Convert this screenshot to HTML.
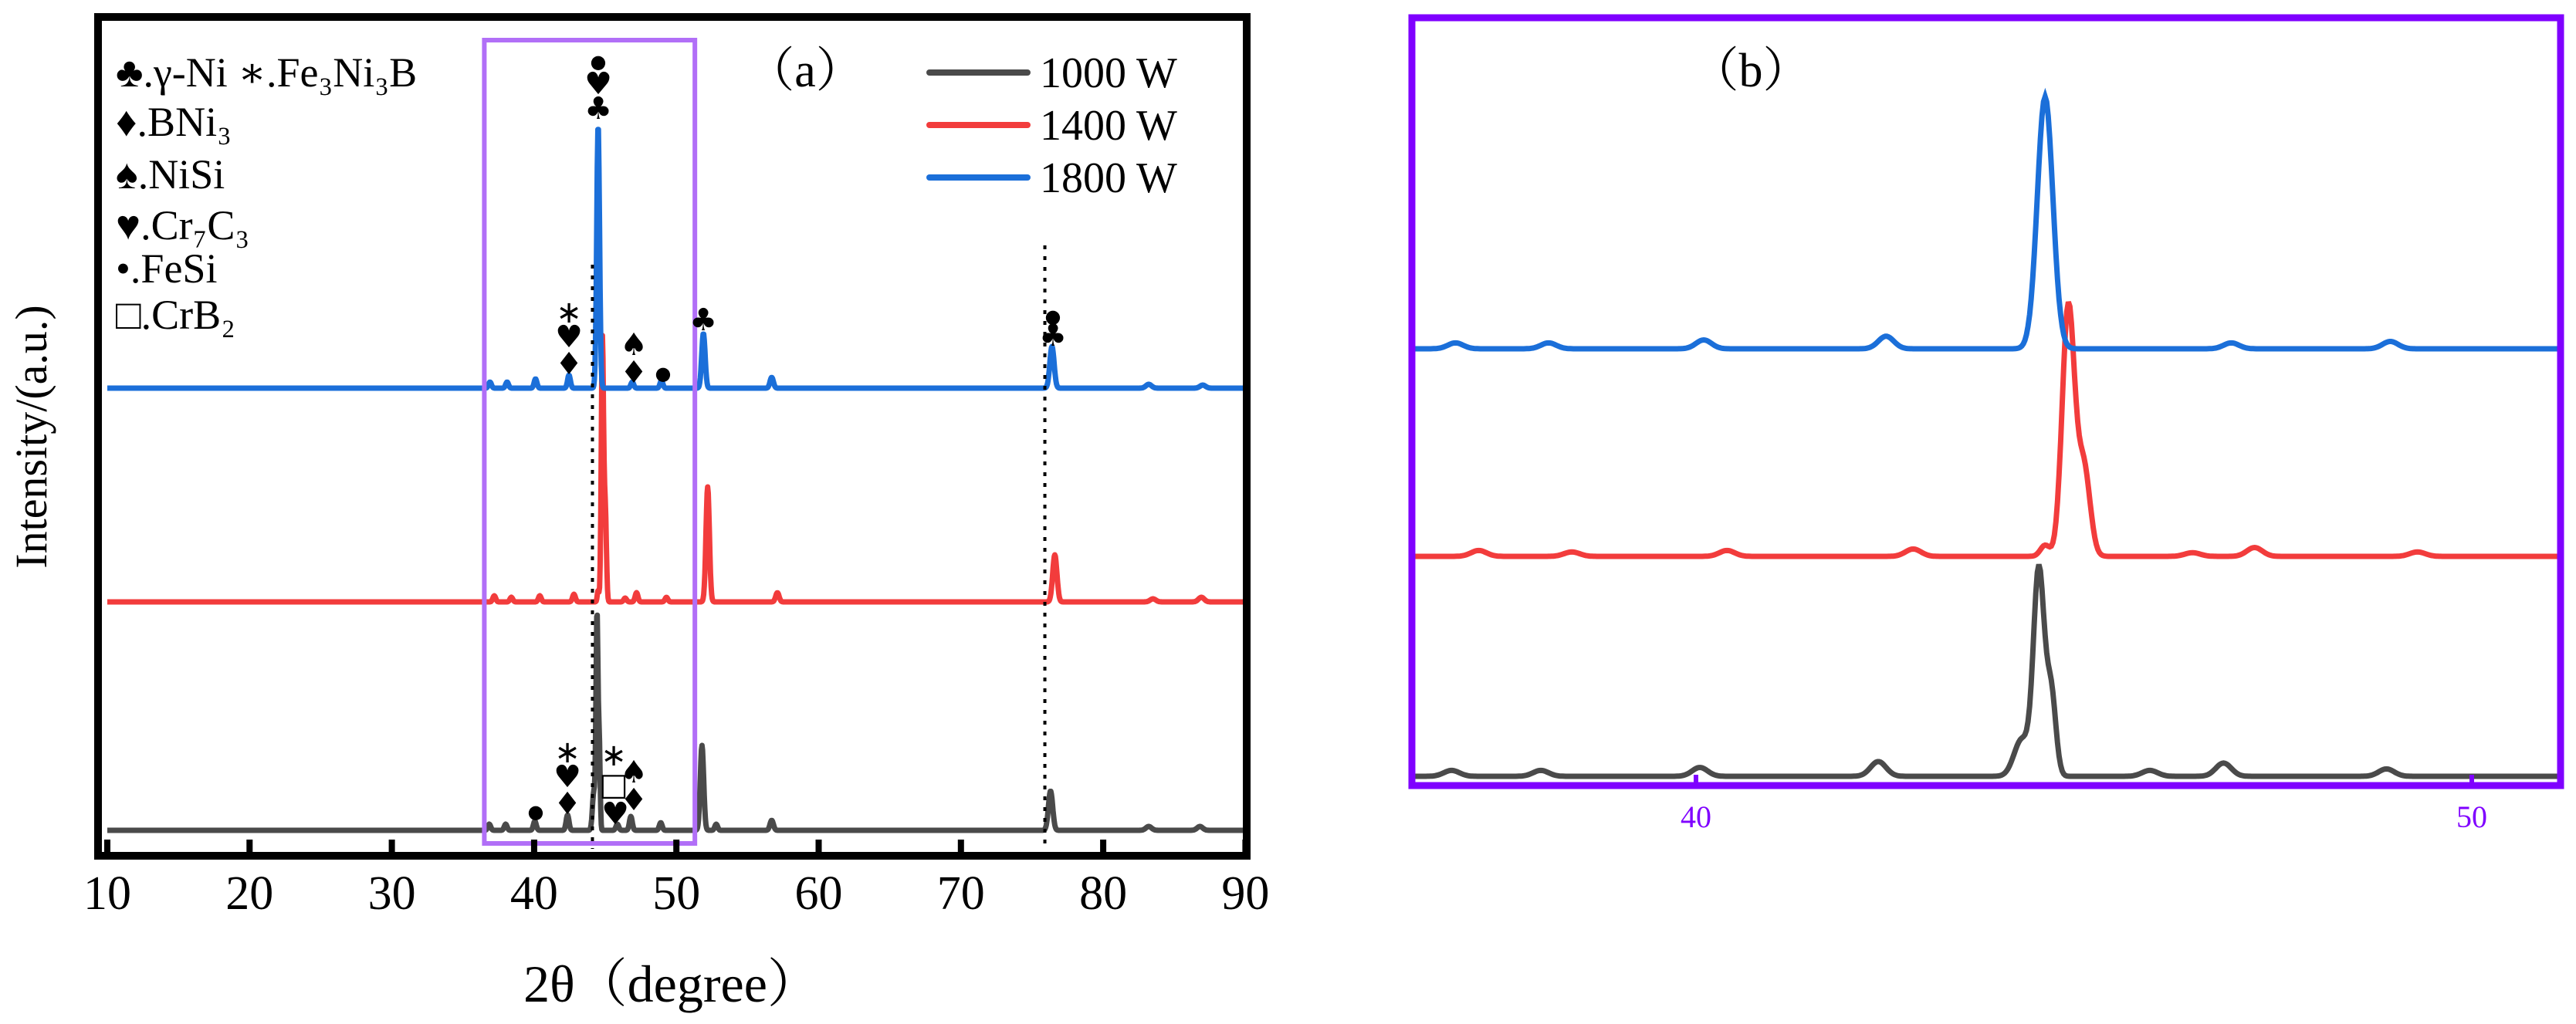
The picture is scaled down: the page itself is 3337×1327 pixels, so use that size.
<!DOCTYPE html>
<html><head><meta charset="utf-8"><style>
body{margin:0;background:#fff}
svg{display:block;font-family:"Liberation Serif",serif}
</style></head><body>
<svg id="fig" width="3337" height="1327" viewBox="0 0 3337 1327" xmlns="http://www.w3.org/2000/svg">
<defs><clipPath id="clipB"><rect x="1833" y="26" width="1480" height="990"/></clipPath>
<clipPath id="clipA"><rect x="132" y="27" width="1478" height="1077"/></clipPath></defs>
<g id="panelA"></g>
<g id="panelB"></g>
</svg>
<script>
// ---- data (2θ in degrees, intensity in arbitrary units) ----
const seriesNames = ["1000 W", "1400 W", "1800 W"];
const blackPeakPos = [36.85, 38.0, 40.05, 42.35, 44.2, 44.42, 44.58, 45.85, 46.8, 48.9, 51.8, 52.8, 56.7, 76.3, 83.2, 86.8];
const blackPeakHt  = [8, 8, 12, 20, 50, 280, 110, 8, 18, 10, 110, 8, 13, 51, 5, 5];
const blackPeakW   = [.1, .1, .1, .1, .1, .07, .06, .1, .1, .1, .12, .1, .12, .15, .2, .2];
const redPeakPos = [37.2, 38.4, 40.4, 42.8, 44.5, 44.8, 45.0, 46.4, 47.2, 49.3, 52.2, 57.1, 76.6, 83.5, 86.9];
const redPeakHt  = [8, 6, 8, 10, 15, 340, 120, 5, 12, 6, 149, 12, 61, 4, 6];
const redPeakW   = [.1, .1, .1, .1, .06, .08, .08, .1, .1, .1, .12, .12, .15, .2, .2];
const bluePeakPos = [36.9, 38.1, 40.1, 42.45, 44.5, 46.9, 48.95, 51.9, 56.7, 76.4, 83.2, 87.0];
const bluePeakHt  = [8, 8, 12, 17, 342, 8, 10, 71, 14, 54, 5, 4];
const bluePeakW   = [.1, .1, .1, .1, .1, .1, .1, .12, .12, .15, .2, .2];
const xTicksA = [10, 20, 30, 40, 50, 60, 70, 80, 90];
const xTicksB = [40, 50];

// ---- axes ----
const NS = "http://www.w3.org/2000/svg";
const xA = d => 139 + (d - 10) * 184.3 / 10;
const xB = d => 2197 + (d - 40) * 100.5;
const baseA = [1076, 780, 503];
const baseB = [1006, 721, 452];
const scaleB = 0.955;
const colors = ["#4a4a4a", "#f23c3c", "#1b6fd9"];
const peaks = [[blackPeakPos, blackPeakHt, blackPeakW], [redPeakPos, redPeakHt, redPeakW], [bluePeakPos, bluePeakHt, bluePeakW]];

function intensity(s, d) {
  const [p, h, w] = peaks[s]; let v = 0;
  for (let i = 0; i < p.length; i++) { const z = (d - p[i]) / w[i]; v += h[i] * Math.exp(-0.5 * z * z); }
  return v;
}
function mk(tag, attrs, parent) { const e = document.createElementNS(NS, tag); for (const k in attrs) e.setAttribute(k, attrs[k]); parent.appendChild(e); return e; }
function txt(parent, x, y, s, size, extra) { const t = mk("text", Object.assign({x: x, y: y, "font-size": size}, extra || {}), parent); t.textContent = s; return t; }

const A = document.getElementById("panelA");
const B = document.getElementById("panelB");

const gA = mk("g", {"clip-path": "url(#clipA)"}, A);
for (let s = 0; s < 3; s++) {
  let pts = [];
  for (let d = 10; d <= 90.001; d += 0.04) pts.push(xA(d).toFixed(1) + "," + (baseA[s] - intensity(s, d)).toFixed(1));
  const pl = mk("polyline", {points: pts.join(" "), fill: "none", stroke: colors[s], "stroke-width": 7, "stroke-linejoin": "round"}, gA);
  
  
}
[[44.1, 343], [75.9, 318]].forEach(function (v) {
  const l = mk("line", {x1: xA(v[0]), x2: xA(v[0]), y1: v[1], y2: 1100, stroke: "#000", "stroke-width": 4, "stroke-dasharray": "5,9"}, A);
  
  
});
const zb = mk("rect", {x: xA(36.5), y: 52, width: xA(51.3) - xA(36.5), height: 1041, fill: "none", stroke: "#b16ff7", "stroke-width": 6}, A);


const fr = mk("rect", {x: 127, y: 22, width: 1488, height: 1087, fill: "none", stroke: "#000", "stroke-width": 10}, A);


xTicksA.forEach(function (t) {
  const tk = mk("rect", {x: xA(t) - 4, y: 1088, width: 8, height: 18, fill: "#000"}, A);
  
  
  const lb = txt(A, xA(t), 1178, String(t), 62, {"text-anchor": "middle"});
  
  
});
const xt = txt(A, 870, 1298, "2θ（degree）", 68, {"text-anchor": "middle", "font-family": "'Liberation Serif', 'Noto Serif CJK SC', serif"});


const yt = txt(A, 0, 0, "Intensity/(a.u.)", 58, {"text-anchor": "middle", transform: "translate(60,566) rotate(-90)"});


const la = txt(A, 1043, 112, "（a）", 62, {"text-anchor": "middle", "font-family": "'Liberation Serif', 'Noto Serif CJK SC', serif"});


const phaseLines = [["♣.γ-Ni  ∗.Fe₃Ni₃B", 112], ["♦.BNi₃", 176], ["♠.NiSi", 244], ["♥.Cr₇C₃", 310], ["•.FeSi", 366], ["□.CrB₂", 426]];
phaseLines.forEach(function (p) {
  const t = txt(A, 150, p[1], p[0], 54, {"font-family": "'Liberation Serif', 'DejaVu Serif', serif"});
  
  
});
for (let s = 0; s < 3; s++) {
  const y = 94 + s * 68;
  const l = mk("line", {x1: 1204, x2: 1331, y1: y, y2: y, stroke: colors[s], "stroke-width": 8, "stroke-linecap": "round"}, A);
  
  
  const t = txt(A, 1347, y + 19, seriesNames[s], 56);
  
  
}
const markers = [["●", 775, 88], ["♥", 775, 122], ["♣", 775, 154], ["∗", 737, 418], ["♥", 737, 450], ["♦", 737, 485], ["♠", 821, 460], ["♦", 821, 496], ["●", 859, 492], ["♣", 911, 428], ["●", 1364, 418], ["♣", 1364, 448],
  ["●", 694, 1060], ["∗", 735, 988], ["♥", 735, 1020], ["♦", 735, 1055], ["∗", 795, 992], ["□", 795, 1030], ["♥", 797, 1068], ["♠", 821, 1014], ["♦", 821, 1050]];
markers.forEach(function (m) {
  const sz = m[0] === "●" ? 24 : 40;
  const t = txt(A, m[1], m[2], m[0], sz, {"text-anchor": "middle", "font-family": "'DejaVu Sans', sans-serif"});
  
  
});

const gB = mk("g", {"clip-path": "url(#clipB)"}, B);
for (let s = 0; s < 3; s++) {
  let pts = [];
  for (let d = 36.2; d <= 51.3; d += 0.02) pts.push(xB(d).toFixed(1) + "," + (baseB[s] - scaleB * intensity(s, d)).toFixed(1));
  const pl = mk("polyline", {points: pts.join(" "), fill: "none", stroke: colors[s], "stroke-width": 7, "stroke-linejoin": "miter"}, gB);
  
  
}
const frB = mk("rect", {x: 1829, y: 23, width: 1488, height: 995, fill: "none", stroke: "#7f00ff", "stroke-width": 9}, B);


xTicksB.forEach(function (t) {
  const tk = mk("rect", {x: xB(t) - 3, y: 1004, width: 6, height: 12, fill: "#7f00ff"}, B);
  
  
  const lb = txt(B, xB(t), 1072, String(t), 40, {"text-anchor": "middle", fill: "#7f00ff"});
  
  
});
const lbB = txt(B, 2268, 112, "（b）", 62, {"text-anchor": "middle", "font-family": "'Liberation Serif', 'Noto Serif CJK SC', serif"});


</script>
</body></html>
